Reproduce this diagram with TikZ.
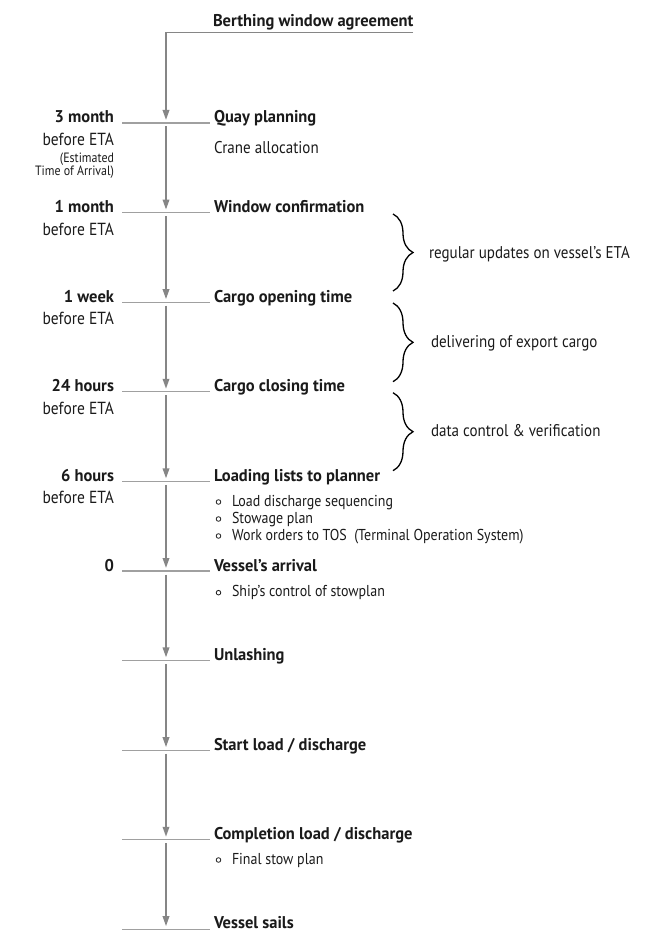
\documentclass[tikz,border=0pt]{standalone}
\usepackage{fontspec}
\setmainfont{PT Sans}[FakeStretch=0.885]
\newfontfamily\headfont{PT Sans}[FakeStretch=0.97]
\usetikzlibrary{arrows.meta,decorations.pathreplacing}
\definecolor{linegray}{HTML}{868686}
\definecolor{tickgray}{HTML}{A0A0A0}
\definecolor{txt}{HTML}{1A1A1A}
\begin{document}
\begin{tikzpicture}[x=1pt,y=-1pt,
  every node/.style={inner sep=0pt, outer sep=0pt, text=txt},
  head/.style={font=\headfont\fontsize{17}{19}\selectfont\bfseries, anchor=base west},
  when/.style={font=\headfont\fontsize{17}{19}\selectfont\bfseries, anchor=base east},
  sub/.style={font=\fontsize{17.5}{19}\selectfont, anchor=base east},
  small/.style={font=\fontsize{13.5}{16}\selectfont, anchor=base east},
  note/.style={font=\fontsize{17}{19}\selectfont, anchor=base west},
  item/.style={font=\fontsize{15.8}{18}\selectfont, anchor=base west},
  flow/.style={draw=linegray, line width=1.8pt, -{Triangle[length=10pt,width=6.5pt]}},
  tickline/.style={draw=tickgray, line width=1.1pt},
  bracedeco/.style={draw=black, line width=1.3pt, decorate, decoration={brace, amplitude=20pt}},
  dot/.style={draw=txt, line width=0.8pt}
]
\useasboundingbox (0,0) rectangle (654,931);

% tick positions
\foreach \i/\y in {0/123,1/212.6,2/302.2,3/391.8,4/481.4,5/571,6/660.4,7/750.2,8/839.8,9/929.2}{
  \coordinate (c\i) at (166,\y);
  \coordinate (l\i) at (122,\y);
  \coordinate (r\i) at (210,\y);
  \draw[tickline] (l\i) -- (r\i);
}

% top
\node[head] (berth) at (213,26.7) {Berthing window agreement};
\coordinate (topr) at (413,32.5);
\coordinate (topl) at (166,32.5);
\draw[flow] (topr) -- (topl) -- ([yshift=3pt]c0);

% flow arrows
\foreach \a/\b in {0/1,1/2,2/3,3/4,4/5,5/6,6/7,7/8,8/9}{
  \draw[flow] ([yshift=-3.5pt]c\a) -- ([yshift=3pt]c\b);
}

% headings
\node[head] (h0) at (214,123) {Quay planning};
\node[head] (h1) at (214,212.6) {Window confirmation};
\node[head] (h2) at (214,302.2) {Cargo opening time};
\node[head] (h3) at (214,391.8) {Cargo closing time};
\node[head] (h4) at (214,481.4) {Loading lists to planner};
\node[head] (h5) at (214,571) {Vessel’s arrival};
\node[head] (h6) at (214,660.6) {Unlashing};
\node[head] (h7) at (214,750.2) {Start load / discharge};
\node[head] (h8) at (214,839.8) {Completion load / discharge};
\node[head] (h9) at (214,928) {Vessel sails};

% left time labels
\node[when] (w0) at (114,123) {3 month};
\node[sub] (b0) at (114,145.5) {before ETA};
\node[small] (e0) at (114,162.7) {(Estimated};
\node[small] (e1) at (114,175.7) {Time of Arrival)};
\node[when] (w1) at (114,212.6) {1 month};
\node[sub] (b1) at (114,235) {before ETA};
\node[when] (w2) at (114,302.2) {1 week};
\node[sub] (b2) at (114,324.5) {before ETA};
\node[when] (w3) at (114,391.8) {24 hours};
\node[sub] (b3) at (114,414) {before ETA};
\node[when] (w4) at (114,481.4) {6 hours};
\node[sub] (b4) at (114,503.5) {before ETA};
\node[when] (w5) at (114,571) {0};

% notes
\node[note] (crane) at (214,153.5) {Crane allocation};
\node[item] (i1) at (232,506) {Load discharge sequencing};
\node[item] (i2) at (232,523) {Stowage plan};
\node[item] (i3) at (232,540) {Work orders to TOS~~(Terminal Operation System)};
\node[item] (i4) at (232,596.7) {Ship’s control of stowplan};
\node[item] (i5) at (232,864) {Final stow plan};
\foreach \n in {i1,i2,i3,i4,i5}{
  \draw[dot] ([xshift=-13.5pt,yshift=4pt]\n.base west) circle (2.3pt);
}

% braces
\coordinate (ba1) at (393,214);
\coordinate (bb1) at (393,291);
\coordinate (ba2) at (393,303);
\coordinate (bb2) at (393,381.7);
\coordinate (ba3) at (393,392.7);
\coordinate (bb3) at (393,470.7);
\draw[bracedeco] (ba1) -- (bb1);
\draw[bracedeco] (ba2) -- (bb2);
\draw[bracedeco] (ba3) -- (bb3);
\node[note] (n1) at (429,258) {regular updates on vessel’s ETA};
\node[note] (n2) at (431,347.5) {delivering of export cargo};
\node[note] (n3) at (431,436.5) {data control \& verification};
\end{tikzpicture}
\end{document}
